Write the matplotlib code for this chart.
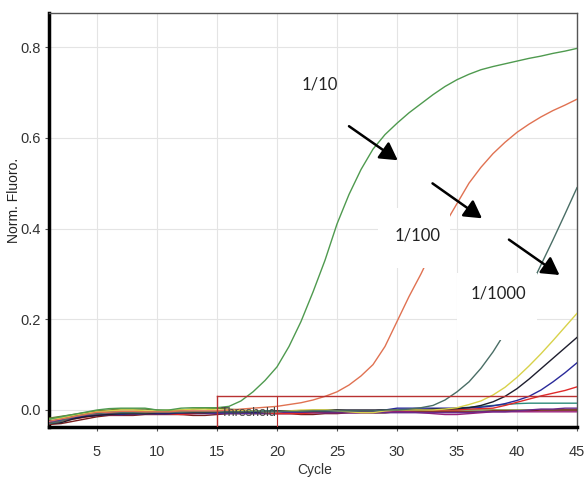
import matplotlib
matplotlib.use("Agg")
import matplotlib.pyplot as plt
from matplotlib.patches import Rectangle

cycles = list(range(1, 46))

s_1_10 = [-0.02, -0.015, -0.01, -0.005, 0.0, 0.003, 0.004, 0.004, 0.004, 0.0, 0.0, 0.004, 0.005, 0.005, 0.005,
          0.008, 0.02, 0.04, 0.065, 0.095, 0.14, 0.195, 0.26, 0.33, 0.41, 0.475, 0.53, 0.575, 0.607, 0.632,
          0.655, 0.675, 0.695, 0.713, 0.728, 0.74, 0.75, 0.757, 0.763, 0.769, 0.775, 0.78, 0.786, 0.791, 0.797]
s_1_100 = [-0.025, -0.02, -0.015, -0.01, -0.005, -0.005, -0.003, -0.003, -0.004, -0.004, -0.004, -0.002, -0.002, -0.002, -0.002,
           0.0, 0.002, 0.004, 0.006, 0.008, 0.012, 0.016, 0.022, 0.03, 0.04, 0.055, 0.075, 0.1, 0.14, 0.195,
           0.25, 0.3, 0.355, 0.41, 0.455, 0.5, 0.535, 0.565, 0.59, 0.612, 0.63, 0.646, 0.66, 0.672, 0.685]
s_1_1000 = [-0.03, -0.025, -0.015, -0.01, -0.008, -0.006, -0.006, -0.006, -0.006, -0.005, -0.005, -0.005, -0.004, -0.004, -0.004,
            -0.004, -0.004, -0.003, -0.003, -0.003, -0.003, -0.003, -0.002, -0.002, -0.002, -0.002, -0.002, -0.002, 0.0, 0.0,
            0.002, 0.005, 0.01, 0.022, 0.04, 0.062, 0.092, 0.128, 0.17, 0.215, 0.265, 0.32, 0.375, 0.432, 0.49]
s_yellow = [-0.02, -0.018, -0.012, -0.008, -0.004, -0.002, 0.0, 0.0, -0.002, -0.002, 0.0, 0.0, 0.002, 0.002, 0.0,
            0.0, -0.002, -0.002, -0.004, -0.004, -0.002, 0.0, 0.0, 0.0, -0.002, -0.004, -0.006, -0.006, -0.002, 0.0,
            0.0, 0.0, 0.0, 0.002, 0.005, 0.012, 0.02, 0.033, 0.05, 0.072, 0.097, 0.124, 0.153, 0.183, 0.213]
s_black = [-0.03, -0.028, -0.02, -0.015, -0.012, -0.01, -0.008, -0.008, -0.008, -0.006, -0.006, -0.006, -0.006, -0.006, -0.004,
           -0.004, -0.004, -0.004, -0.004, -0.002, -0.002, -0.002, -0.002, -0.002, 0.0, 0.0, 0.0, 0.0, 0.0, 0.0,
           0.0, 0.0, 0.002, 0.002, 0.003, 0.005, 0.01, 0.018, 0.03, 0.047, 0.068, 0.091, 0.114, 0.137, 0.16]
s_blue = [-0.025, -0.022, -0.018, -0.014, -0.012, -0.01, -0.01, -0.008, -0.008, -0.008, -0.008, -0.006, -0.006, -0.006, -0.006,
          -0.006, -0.006, -0.006, -0.006, -0.004, -0.004, -0.004, -0.004, -0.004, -0.004, -0.004, -0.002, -0.002, 0.0, 0.004,
          0.004, 0.004, 0.004, 0.004, 0.004, 0.005, 0.006, 0.009, 0.014, 0.021, 0.03, 0.044, 0.062, 0.082, 0.104]
s_red2 = [-0.03, -0.025, -0.02, -0.016, -0.012, -0.01, -0.01, -0.008, -0.006, -0.006, -0.008, -0.01, -0.008, -0.006, -0.004,
          -0.002, -0.002, -0.004, -0.006, -0.008, -0.008, -0.008, -0.006, -0.004, -0.004, -0.004, -0.004, -0.002, 0.0, 0.0,
          0.0, 0.0, 0.0, 0.0, 0.0, 0.002, 0.003, 0.004, 0.01, 0.017, 0.024, 0.031, 0.037, 0.043, 0.051]
s_flat_teal = [-0.02, -0.018, -0.014, -0.01, -0.006, -0.004, -0.004, -0.004, -0.004, -0.004, -0.004, -0.004, -0.004, -0.004, -0.004,
               -0.004, -0.002, -0.002, -0.002, -0.002, -0.002, -0.002, -0.002, -0.002, -0.002, -0.002, -0.002, -0.002, 0.0, 0.0,
               0.0, 0.0, 0.0, 0.002, 0.004, 0.006, 0.008, 0.01, 0.012, 0.014, 0.015, 0.015, 0.015, 0.015, 0.015]
s_purple = [-0.028, -0.024, -0.018, -0.014, -0.012, -0.01, -0.01, -0.01, -0.008, -0.008, -0.008, -0.008, -0.008, -0.008, -0.008,
            -0.008, -0.008, -0.008, -0.008, -0.008, -0.008, -0.006, -0.006, -0.006, -0.006, -0.006, -0.006, -0.006, -0.006, -0.006,
            -0.006, -0.006, -0.006, -0.006, -0.006, -0.006, -0.004, -0.004, -0.004, -0.002, 0.0, 0.002, 0.002, 0.004, 0.004]
s_magenta = [-0.025, -0.02, -0.016, -0.012, -0.01, -0.008, -0.008, -0.008, -0.006, -0.006, -0.006, -0.006, -0.006, -0.006, -0.006,
             -0.006, -0.006, -0.006, -0.006, -0.006, -0.006, -0.006, -0.006, -0.006, -0.006, -0.006, -0.006, -0.006, -0.004, -0.004,
             -0.004, -0.006, -0.008, -0.01, -0.01, -0.008, -0.006, -0.004, -0.004, -0.004, -0.004, -0.004, -0.004, -0.004, -0.004]
s_darkred = [-0.032, -0.03, -0.025, -0.02, -0.015, -0.012, -0.012, -0.012, -0.01, -0.01, -0.01, -0.01, -0.012, -0.012, -0.01,
             -0.008, -0.008, -0.008, -0.008, -0.008, -0.008, -0.01, -0.01, -0.008, -0.008, -0.006, -0.006, -0.006, -0.006, -0.004,
             -0.004, -0.004, -0.004, -0.004, -0.004, -0.004, -0.004, -0.002, -0.002, -0.002, -0.002, 0.0, 0.0, 0.0, 0.0]
s_olive = [-0.018, -0.014, -0.01, -0.006, -0.002, 0.0, 0.002, 0.002, 0.002, 0.0, -0.002, 0.0, 0.002, 0.004, 0.004,
           0.002, 0.0, -0.002, -0.002, -0.002, -0.002, -0.002, 0.0, 0.0, 0.0, -0.002, -0.004, -0.006, -0.006, -0.004,
           -0.002, 0.0, 0.0, 0.0, 0.0, 0.0, 0.0, 0.0, 0.0, 0.0, 0.0, 0.0, 0.0, 0.0, 0.0]

threshold = 0.031
threshold_start = 15
threshold_label_end = 20

x_ticks = [5, 10, 15, 20, 25, 30, 35, 40, 45]
y_ticks = [0.0, 0.2, 0.4, 0.6, 0.8]
y_tick_labels = ["0.0", "0.2", "0.4", "0.6", "0.8"]

series = [
    (s_olive, "#6b7a2a"),
    (s_darkred, "#7a1c1c"),
    (s_magenta, "#9a1f7a"),
    (s_purple, "#6a2a8a"),
    (s_flat_teal, "#2a8a7a"),
    (s_red2, "#e02a2a"),
    (s_blue, "#2a2a9a"),
    (s_black, "#1e1e2e"),
    (s_yellow, "#d8d24a"),
    (s_1_1000, "#4a6e66"),
    (s_1_100, "#e07252"),
    (s_1_10, "#4f9a4f"),
]

arial = ["Liberation Sans", "DejaVu Sans"]
calib = ["Lato", "DejaVu Sans"]

fig = plt.figure(figsize=(5.87, 4.79), dpi=100)
ax = fig.add_axes([49 / 587, 1 - 427 / 479, (577 - 49) / 587, (427 - 13) / 479])

for vals, col in series:
    ax.plot(cycles, vals, color=col, lw=1.0, zorder=3)

# threshold
ax.plot([threshold_start, cycles[-1]], [threshold, threshold], color="#b83232", lw=1.0, zorder=4)
ax.plot([threshold_start, threshold_start], [-0.04, threshold], color="#b83232", lw=1.0, zorder=4)
ax.plot([threshold_label_end, threshold_label_end], [-0.04, threshold], color="#b83232", lw=0.8, zorder=4)
ax.text(15.3, -0.007, "Threshold", fontsize=9, family=arial, color="#444444",
        va="center", ha="left", zorder=5)

ax.set_xlim(1, 45)
ax.set_ylim(-0.0375, 0.875)
ax.set_xticks(x_ticks)
ax.set_yticks(y_ticks)
ax.set_yticklabels(y_tick_labels)
ax.grid(True, color="#e4e4e4", lw=0.8, zorder=0)
ax.set_axisbelow(True)

for lab in ax.get_xticklabels() + ax.get_yticklabels():
    lab.set_family(arial)
    lab.set_fontsize(10.5)
    lab.set_color("#333333")
ax.tick_params(axis="both", length=3, width=0.8, color="#555555")
ax.tick_params(axis="x", pad=10)
ax.tick_params(axis="y", pad=3)

ax.spines["left"].set_linewidth(2.5)
ax.spines["bottom"].set_linewidth(2.5)
ax.spines["left"].set_color("black")
ax.spines["bottom"].set_color("black")
ax.spines["top"].set_linewidth(1.0)
ax.spines["right"].set_linewidth(1.0)
ax.spines["top"].set_color("#555555")
ax.spines["right"].set_color("#555555")

ax.set_xlabel("Cycle", family=arial, fontsize=10, color="#333333")
ax.xaxis.set_label_coords(0.504, -0.086)
ax.set_ylabel("Norm. Fluoro.", family=arial, fontsize=10, color="#222222")
ax.yaxis.set_label_coords(-0.053, 0.548)

# white label boxes
ax.add_patch(Rectangle((28.42, 0.313), 6.0, 0.132, facecolor="white", edgecolor="none", zorder=6))
ax.add_patch(Rectangle((35.0, 0.154), 6.67, 0.148, facecolor="white", edgecolor="none", zorder=6))

ax.text(23.54, 0.717, "1/10", fontsize=12, family=calib, color="#222222", ha="center", va="center", zorder=7)
ax.text(31.75, 0.384, "1/100", fontsize=12, family=calib, color="#222222", ha="center", va="center", zorder=7)
ax.text(38.46, 0.256, "1/1000", fontsize=12, family=calib, color="#222222", ha="center", va="center", zorder=7)

arrow_kw = dict(arrowstyle="-|>,head_length=0.7,head_width=0.4", color="black", lw=1.8, mutation_scale=15)
ax.annotate("", xy=(30.25, 0.547), xytext=(25.81, 0.629), arrowprops=arrow_kw, zorder=8)
ax.annotate("", xy=(37.27, 0.419), xytext=(32.77, 0.503), arrowprops=arrow_kw, zorder=8)
ax.annotate("", xy=(43.73, 0.294), xytext=(39.14, 0.379), arrowprops=arrow_kw, zorder=8)

fig.savefig("out.png", dpi=100)
